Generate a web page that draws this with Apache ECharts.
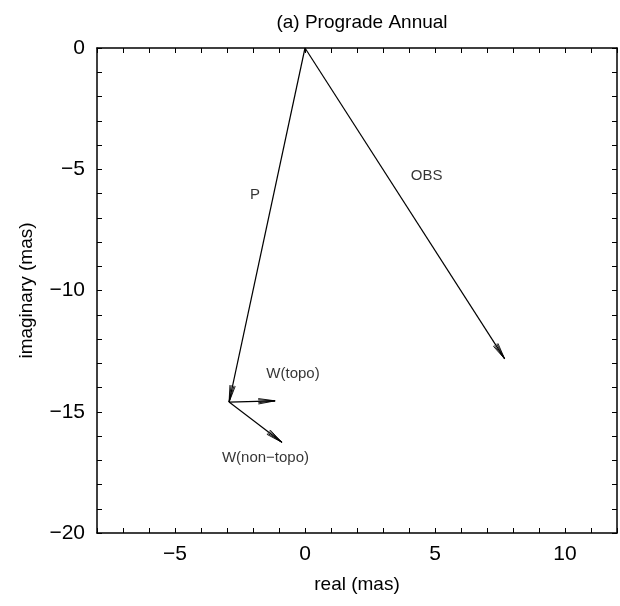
<!DOCTYPE html>
<html><head><meta charset="utf-8">
<script src="https://cdn.jsdelivr.net/npm/echarts@6/dist/echarts.min.js"></script>
<style>html,body{margin:0;padding:0;background:#fff}#c{width:620px;height:606px}</style>
</head><body><div id="c"></div>
<script>
const vectorNames = ['OBS', 'P', 'W(topo)', 'W(non\u2212topo)'];
const startX = [0, 0, -2.92, -2.92];
const startY = [0, 0, -14.6, -14.6];
const endX = [7.68, -2.92, -1.15, -0.89];
const endY = [-12.82, -14.6, -14.55, -16.26];
const labelX = [4.68, -1.92, -0.46, -1.52];
const labelY = [-5.28, -6.06, -13.42, -16.89];
const xTickLabels = [-5, 0, 5, 10];
const yTickLabels = [0, -5, -10, -15, -20];

const FONT = 'Liberation Sans, Arial, Helvetica, sans-serif';
const fmtNum = v => (v < 0 ? '\u2212' + Math.abs(v) : String(v));

const vecData = vectorNames.map((n, i) => [startX[i], startY[i], endX[i], endY[i]]);
const lblData = vectorNames.map((n, i) => ({ value: [labelX[i], labelY[i]], name: n }));

const chart = echarts.init(document.getElementById('c'), null, { renderer: 'canvas' });

function axisCommon() {
  return {
    axisLine: { show: true, onZero: false, lineStyle: { color: '#000', width: 1.5 } },
    axisTick: { show: true, inside: true, length: 5, lineStyle: { color: '#000', width: 1 } },
    splitLine: { show: false },
  };
}

chart.setOption({
  animation: false,
  backgroundColor: '#fff',
  title: {
    text: '(a) Prograde Annual', left: 357, top: 8, textAlign: 'center',
    textStyle: { fontFamily: FONT, fontSize: 19, fontWeight: 'normal', color: '#000' }
  },
  grid: { left: 97, right: 2, top: 48, bottom: 73, containLabel: false },
  xAxis: [
    Object.assign({
      type: 'value', min: -8, max: 12, interval: 1, position: 'bottom',
      name: 'real (mas)', nameLocation: 'middle', nameGap: 42,
      nameTextStyle: { fontFamily: FONT, fontSize: 19, color: '#000' },
      axisLabel: {
        fontFamily: FONT, fontSize: 21, color: '#000', margin: 11,
        formatter: v => (xTickLabels.indexOf(v) >= 0 ? fmtNum(v) : '')
      }
    }, axisCommon()),
    Object.assign({
      type: 'value', min: -8, max: 12, interval: 1, position: 'top',
      axisLabel: { show: false }
    }, axisCommon())
  ],
  yAxis: [
    Object.assign({
      type: 'value', min: -20, max: 0, interval: 1, position: 'left',
      name: 'imaginary (mas)', nameLocation: 'middle', nameGap: 61, nameRotate: 90,
      nameTextStyle: { fontFamily: FONT, fontSize: 19, color: '#000' },
      axisLabel: {
        fontFamily: FONT, fontSize: 21, color: '#000', margin: 12,
        formatter: v => (yTickLabels.indexOf(v) >= 0 ? fmtNum(v) : '')
      }
    }, axisCommon()),
    Object.assign({
      type: 'value', min: -20, max: 0, interval: 1, position: 'right',
      axisLabel: { show: false }
    }, axisCommon())
  ],
  series: [
    {
      type: 'custom',
      xAxisIndex: 0, yAxisIndex: 0,
      data: vecData,
      clip: false,
      renderItem: function (params, api) {
        const p0 = api.coord([api.value(0), api.value(1)]);
        const p1 = api.coord([api.value(2), api.value(3)]);
        const ang = Math.atan2(p1[1] - p0[1], p1[0] - p0[0]);
        const L = 17, spread = 0.16;
        const heads = [];
        [-spread, -spread * 0.55, spread * 0.55, spread].forEach(function (s) {
          const a = ang + Math.PI + s;
          heads.push({
            type: 'line',
            shape: { x1: p1[0], y1: p1[1], x2: p1[0] + L * Math.cos(a), y2: p1[1] + L * Math.sin(a) },
            style: { stroke: '#000', lineWidth: 0.9 }
          });
        });
        return {
          type: 'group',
          children: [{
            type: 'line',
            shape: { x1: p0[0], y1: p0[1], x2: p1[0], y2: p1[1] },
            style: { stroke: '#000', lineWidth: 1.2 }
          }].concat(heads)
        };
      }
    },
    {
      type: 'scatter',
      xAxisIndex: 0, yAxisIndex: 0,
      symbolSize: 0,
      data: lblData,
      label: {
        show: true, position: 'inside', formatter: p => p.name,
        fontFamily: FONT, fontSize: 15, color: '#000'
      },
      emphasis: { disabled: true }
    }
  ]
});
</script></body></html>
